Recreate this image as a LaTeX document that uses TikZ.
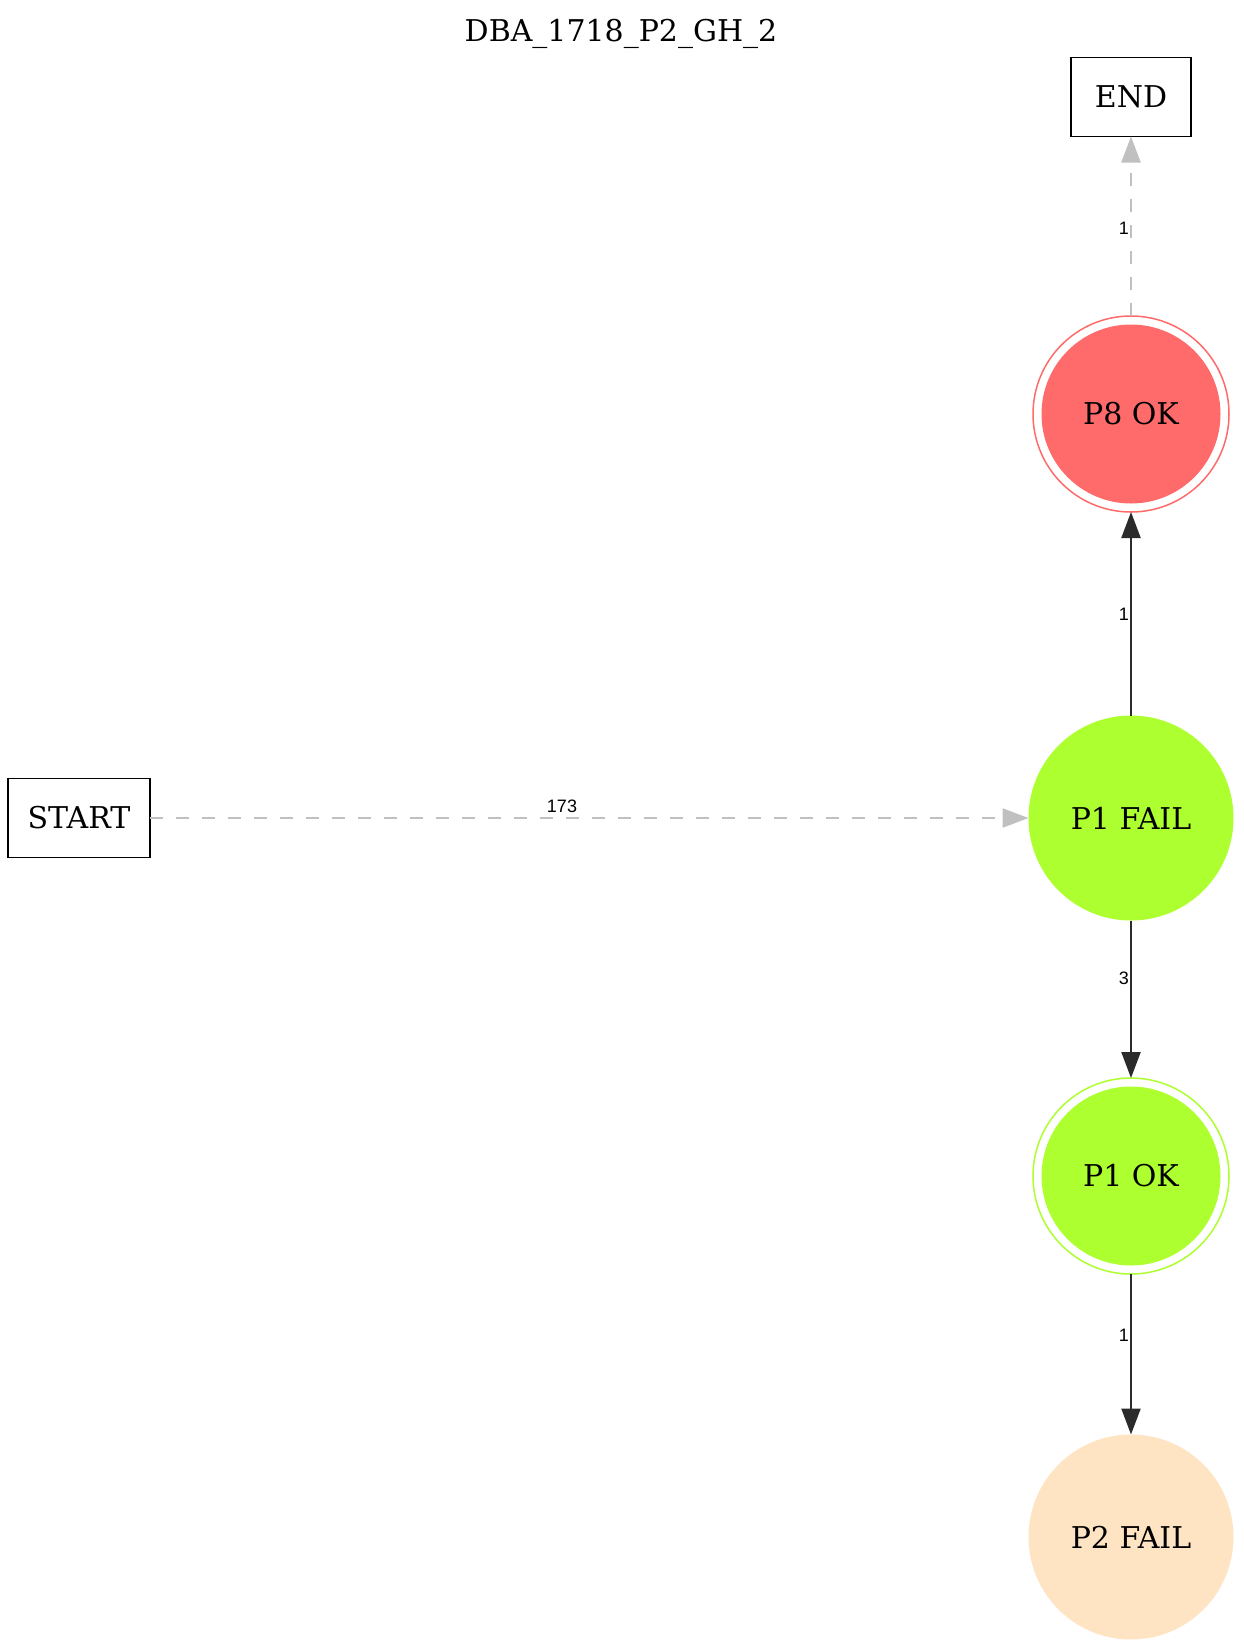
\documentclass[tikz,border=0pt]{standalone}
\usepackage{fontspec}
\setmainfont{DejaVu Serif}
\newfontfamily\labfont{Liberation Sans}
\usetikzlibrary{arrows.meta}
\definecolor{redc}{HTML}{FF6B6B}
\definecolor{greenc}{HTML}{ADFF2F}
\definecolor{bisquec}{HTML}{FFE4C4}
\definecolor{darkline}{HTML}{2B2B2B}
\definecolor{grayline}{HTML}{C0C0C0}
\tikzset{
  nodefont/.style={font=\fontsize{30}{36}\selectfont},
  box/.style={nodefont, draw=black, line width=1.6pt, rectangle, minimum width=#1, minimum height=79pt, inner sep=0pt, outer sep=0pt},
  plainstate/.style={nodefont, circle, fill=#1, minimum size=205pt, inner sep=0pt, outer sep=0pt},
  dblstate/.style={nodefont, circle, draw=#1, line width=1.5pt, minimum size=196pt, inner sep=0pt, outer sep=0pt,
    path picture={\fill[#1] (path picture bounding box.center) circle[radius=89.5pt];}},
  solidedge/.style={draw=darkline, line width=2.2pt, -{Triangle[length=26pt,width=19pt]}},
  dashedge/.style={draw=grayline, line width=2.2pt, dash pattern=on 13pt off 13pt, -{Triangle[length=26pt,width=19pt]}},
  elabel/.style={font=\labfont\fontsize{18}{20}\selectfont, inner sep=0pt, text=black},
}
\begin{document}
\begin{tikzpicture}[x=1pt,y=-1pt]
\fill[white] (0,0) rectangle (1243,1650);
\useasboundingbox (0,0) rectangle (1243,1650);

\node[nodefont, anchor=base, inner sep=0pt] (title) at (621,41) {DBA\_1718\_P2\_GH\_2};

\node[box=120pt] (end) at (1131,97) {END};
\node[box=142pt] (start) at (79,818) {START};
\node[dblstate=redc] (p8ok) at (1131,414) {P8 OK};
\node[plainstate=greenc] (p1fail) at (1131,818) {P1 FAIL};
\node[dblstate=greenc] (p1ok) at (1131,1176) {P1 OK};
\node[plainstate=bisquec] (p2fail) at (1131,1537) {P2 FAIL};

\draw[dashedge] (start) -- (p1fail);
\draw[solidedge] (p1fail) -- (p8ok);
\draw[dashedge] (p8ok) -- (end);
\draw[solidedge] (p1fail) -- (p1ok);
\draw[solidedge] (p1ok) -- (p2fail);

\node[elabel] (l173) at (562,806) {173};
\node[elabel, anchor=east] (lend) at (1129,228) {1};
\node[elabel, anchor=east] (lp8) at (1129,614) {1};
\node[elabel, anchor=east] (lp1ok) at (1129,978) {3};
\node[elabel, anchor=east] (lp2) at (1129,1335) {1};
\end{tikzpicture}
\end{document}
